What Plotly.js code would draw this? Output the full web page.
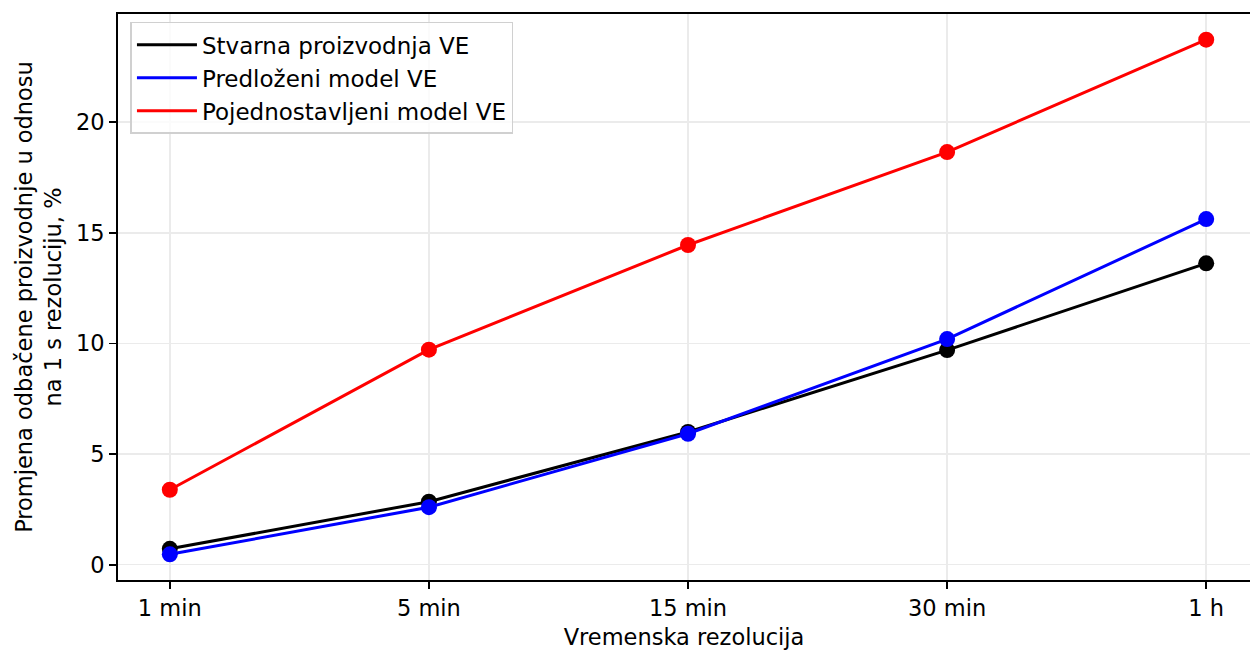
<!DOCTYPE html>
<html>
<head>
<meta charset="utf-8">
<script src="https://cdn.plot.ly/plotly-3.0.1.min.js"></script>
<style>html,body{margin:0;padding:0;background:#fff;}#chart{width:1250px;height:650px;}</style>
</head>
<body>
<div id="chart"></div>
<script>
const categories = ["1 min", "5 min", "15 min", "30 min", "1 h"];
const seriesNames = ["Stvarna proizvodnja VE", "Predloženi model VE", "Pojednostavljeni model VE"];
const stvarna = [0.72, 2.85, 6.0, 9.7, 13.62];
const predlozeni = [0.47, 2.6, 5.92, 10.2, 15.62];
const pojednostavljeni = [3.39, 9.72, 14.45, 18.65, 23.73];
const yTicks = [0, 5, 10, 15, 20];
const colors = ["#000000", "#0000ff", "#ff0000"];

const FONT = "DejaVu Sans, sans-serif";
const allSeries = [stvarna, predlozeni, pojednostavljeni];
const traces = [];
allSeries.forEach((vals, i) => {
  traces.push({
    type: "scatter", mode: "lines",
    x: categories, y: vals,
    name: seriesNames[i], legendgroup: "g" + i,
    line: {color: colors[i], width: 3}
  });
  traces.push({
    type: "scatter", mode: "markers",
    x: categories, y: vals,
    name: seriesNames[i], legendgroup: "g" + i, showlegend: false,
    marker: {color: colors[i], size: 16}
  });
});

const layout = {
  width: 1250,
  height: 650,
  margin: {l: 118, r: 0, t: 14, b: 70},
  paper_bgcolor: "#ffffff",
  plot_bgcolor: "#ffffff",
  font: {family: FONT, size: 22.5, color: "#000"},
  showlegend: true,
  legend: {
    x: 0.011, y: 0.986, xanchor: "left", yanchor: "top",
    bgcolor: "rgba(255,255,255,0.8)",
    bordercolor: "#d0d0d0", borderwidth: 1.5,
    font: {family: FONT, size: 23, color: "#000"},
    traceorder: "grouped",
    tracegroupgap: 0,
    itemwidth: 60
  },
  xaxis: {
    type: "category",
    range: [-0.2, 4.169],
    showline: true, linecolor: "#000", linewidth: 1.8, mirror: true,
    ticks: "outside", ticklen: 7, tickwidth: 1.8, tickcolor: "#000",
    showgrid: true, gridcolor: "#ebebeb", gridwidth: 1.5,
    zeroline: false,
    tickfont: {family: FONT, size: 22.5, color: "#000"},
    title: {text: "Vremenska rezolucija", font: {family: FONT, size: 22.5, color: "#000"}, standoff: 16}
  },
  yaxis: {
    range: [-0.69, 24.89],
    tickvals: yTicks,
    ticktext: yTicks.map(String),
    showline: true, linecolor: "#000", linewidth: 1.8, mirror: false,
    ticks: "outside", ticklen: 7, tickwidth: 1.8, tickcolor: "#000",
    showgrid: true, gridcolor: "#ebebeb", gridwidth: 1.5,
    zeroline: false,
    tickfont: {family: FONT, size: 22.5, color: "#000"},
    title: {text: "Promjena odbačene proizvodnje u odnosu<br>na 1 s rezoluciju, %", font: {family: FONT, size: 22.5, color: "#000"}, standoff: 8}
  }
};

Plotly.newPlot("chart", traces, layout, {displayModeBar: false, staticPlot: true});
</script>
</body>
</html>
